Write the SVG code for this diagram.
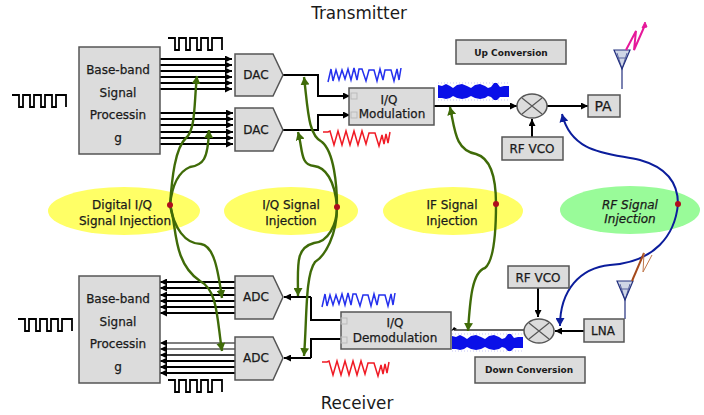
<svg xmlns="http://www.w3.org/2000/svg" xmlns:xlink="http://www.w3.org/1999/xlink" width="704" height="415" viewBox="0 0 704 415">
<style>
text{font-family:"DejaVu Sans","Liberation Sans",sans-serif;fill:#1a1a1a;text-anchor:middle}
.t{font-size:12px;stroke:#1a1a1a;stroke-width:.25px}
.s{font-size:9px;font-weight:bold}
.i{font-style:italic}
.h{font-size:16.8px}
.box{fill:#dcdcdc;stroke:#555;stroke-width:1.5}
.ln{fill:none;stroke:#000;stroke-width:2}
.bus{fill:none;stroke:#000;stroke-width:2;marker-end:url(#a)}
.g{fill:none;stroke:#3f6b08;stroke-width:2.4}
.ga{marker-end:url(#ag)}
.b{fill:none;stroke:#0b1d9c;stroke-width:2;marker-end:url(#ab)}
.sq{fill:none;stroke:#000;stroke-width:1.8}
.dot{fill:#b00d1d}
.ant{fill:#cfd6e6;stroke:#23307f;stroke-width:1.2}
</style>
<defs>
<marker id="a" markerUnits="userSpaceOnUse" markerWidth="8" markerHeight="7" refX="7" refY="3.5" orient="auto"><path d="M0,0L7,3.5L0,7z" fill="#000"/></marker>
<marker id="ag" markerUnits="userSpaceOnUse" markerWidth="9" markerHeight="9" refX="8" refY="4.5" orient="auto"><path d="M0,0L8,4.5L0,9z" fill="#3f6b08"/></marker>
<marker id="ab" markerUnits="userSpaceOnUse" markerWidth="9" markerHeight="9" refX="8" refY="4.5" orient="auto"><path d="M0,0L8,4.5L0,9z" fill="#0b1d9c"/></marker>
<path id="sq" class="sq" d="M0,0H7V12H11V0H18V12H22V0H29V12H33V0H40V12H44V0H54V12"/>
<polyline id="bw" points="0,15 3,2 5,14 8,3 11,13 14,3 17,12 20,2 23,13 26,1 29,13 31,2 34,2 38,14 41,3 46,3 49,14 52,2 55,13 57,3 63,3 66,14 69,2 71,13 73,1" fill="none" stroke="#2430ee" stroke-width="1.5"/>
<polyline id="rw" points="0,4 5,4 7,3 11,17 15,3 19,17 23,3 27,17 31,3 35,17 39,3 43,16 46,5 52,5 56,18 59,7 61,16 63,6 65,15 67,4" fill="none" stroke="#f01a24" stroke-width="1.5"/>
<g id="rf">
<path d="M0,0H71M0,17H71" fill="none" stroke="#b9b9f2" stroke-width=".8" stroke-dasharray="1 2"/>
<path fill="#0a10e8" d="M0,2 L4,3 8,1 12,3 15,5 19,2 24,1 29,3 33,5 37,2 42,1 47,3 50,5 53,4 56,0 59,0 62,4 66,3 71,3 V14 L66,14 62,14 59,17 56,17 53,14 50,13 47,15 42,16 37,15 33,13 29,15 24,16 19,15 15,13 12,15 8,16 4,15 0,15z"/>
</g>
<g id="ant"><path class="ant" d="M0,0H16L8,19z"/><path d="M3,3L8,19L13,3M5,8H11" fill="none" stroke="#23307f" stroke-width=".7"/></g>
</defs>
<rect width="704" height="415" fill="#fff"/>

<ellipse cx="124" cy="211" rx="76" ry="24" fill="#ffff66"/>
<ellipse cx="291" cy="211" rx="67" ry="24" fill="#ffff66"/>
<ellipse cx="453" cy="211" rx="70" ry="24" fill="#ffff66"/>
<ellipse cx="630" cy="210" rx="70" ry="24" fill="#99fb99"/>

<text class="h" x="359" y="19">Transmitter</text>
<text class="h" x="357" y="409">Receiver</text>

<g id="connectors">
<path class="bus" d="M159,59H232"/><path class="bus" d="M159,65H232"/><path class="bus" d="M159,71H232"/><path class="bus" d="M159,77H232"/><path class="bus" d="M159,83H232"/><path class="bus" d="M159,89H232"/>
<path class="bus" d="M159,113H233"/><path class="bus" d="M159,119H233"/><path class="bus" d="M159,125H233"/><path class="bus" d="M159,132H233"/><path class="bus" d="M159,138H233"/><path class="bus" d="M159,144H233"/>
<path class="bus" d="M235,282H160"/><path class="bus" d="M235,288H160"/><path class="bus" d="M235,295H160"/><path class="bus" d="M235,301H160"/><path class="bus" d="M235,307H160"/><path class="bus" d="M235,313H160"/>
<path class="bus" d="M235,343H160" style="stroke-width:1"/><path class="bus" d="M235,349H160" style="stroke-width:1"/><path class="bus" d="M235,355H160" style="stroke-width:1.4"/><path class="bus" d="M235,361H160"/><path class="bus" d="M235,367H160"/><path class="bus" d="M235,373H160"/>
<path class="bus" d="M283,75H318V96H350"/>
<path class="bus" d="M283,130H318V115H350"/>
<path class="bus" d="M311,297H284"/>
<path class="bus" d="M311,358H284"/>
<path class="ln" d="M311,297V320H341M311,358V339H341"/>
<path class="bus" d="M431,106H517"/>
<path class="bus" d="M547,106H588"/>
<path class="bus" d="M532,137V119"/>
<path d="M524,330H454" fill="none" stroke="#666" stroke-width="2"/>
<path d="M457,329L451,331L454,327z" fill="#000"/>
<path class="bus" d="M538,288V317"/>
<path class="bus" d="M584,331H555"/>
<path d="M622,89V66M625,319V296" stroke="#23307f" stroke-width="1.2" fill="none"/>

<path class="g ga" d="M170,205C172,178 175,148 186,138C196,130 194,100 197,76"/>
<path class="g ga" d="M170,205C172,186 178,172 190,167C203,165 208,160 209,130"/>
<path class="g ga" d="M337,207C337,185 334,152 322,142C308,135 308,110 304,77"/>
<path class="g ga" d="M337,207C335,180 325,167 314,166C300,165 303,150 298,132"/>
<path class="g ga" d="M170,205C177,225 172,262 200,281C218,290 217,320 222,351"/>
<path class="g ga" d="M170,205C174,228 185,244 201,244C214,246 218,270 222,298"/>
<path class="g ga" d="M337,207C337,225 328,242 314,243C295,248 298,265 298,296"/>
<path class="g ga" d="M337,207C337,235 325,256 315,262C305,275 307,320 304,356"/>
<path class="g ga" d="M496,204C496,175 490,158 476,154C455,150 455,130 450,107"/>
<path class="g ga" d="M496,204C496,225 495,260 485,268C472,272 470,300 468,331"/>
<path class="b" d="M678,204C678,182 665,167 640,160C610,153 572,155 562,114"/>
<path class="b" d="M678,204C675,235 655,262 610,265C580,268 560,290 560,326"/>
<circle class="dot" cx="170" cy="205" r="3"/>
<circle class="dot" cx="337" cy="207" r="3"/>
<circle class="dot" cx="496" cy="204" r="3"/>
<circle class="dot" cx="678" cy="204" r="3"/>
</g>

<g id="baseband-tx"><rect class="box" x="79" y="47" width="81" height="107"/>
<text class="t" x="118" y="74">Base-band</text><text class="t" x="118" y="97">Signal</text><text class="t" x="118" y="119">Processin</text><text class="t" x="118" y="142">g</text></g>
<g id="baseband-rx"><rect class="box" x="79" y="276" width="81" height="107"/>
<text class="t" x="118" y="303">Base-band</text><text class="t" x="118" y="326">Signal</text><text class="t" x="118" y="348">Processin</text><text class="t" x="118" y="371">g</text></g>
<g id="dac1"><path class="box" d="M235,54H273L283,75L273,96H235z"/><text class="t" x="256" y="79">DAC</text></g>
<g id="dac2"><path class="box" d="M235,108H273L283,130L273,151H235z"/><text class="t" x="256" y="134">DAC</text></g>
<g id="adc1"><path class="box" d="M235,276H273L283,297L273,319H235z"/><text class="t" x="256" y="301">ADC</text></g>
<g id="adc2"><path class="box" d="M235,337H273L283,358L273,380H235z"/><text class="t" x="256" y="362">ADC</text></g>
<g id="iq-mod"><rect class="box" x="349" y="88" width="85" height="37"/>
<rect x="351" y="93" width="6" height="6" fill="none" stroke="#bbb"/><rect x="351" y="112" width="6" height="6" fill="none" stroke="#bbb"/>
<text class="t" x="389" y="104">I/Q</text><text class="t" x="392" y="118">Modulation</text></g>
<g id="iq-demod"><rect class="box" x="341" y="312" width="110" height="37"/>
<rect x="341" y="318" width="6" height="6" fill="none" stroke="#bbb"/><rect x="341" y="337" width="6" height="6" fill="none" stroke="#bbb"/>
<text class="t" x="395" y="327">I/Q</text><text class="t" x="395" y="342">Demodulation</text></g>
<g id="mixer-up"><ellipse class="box" cx="532" cy="106" rx="15" ry="12"/><path d="M522,98L542,114M542,98L522,114" stroke="#555" stroke-width="1.2"/></g>
<g id="mixer-down"><ellipse class="box" cx="539" cy="331" rx="15" ry="12"/><path d="M529,323L549,339M549,323L529,339" stroke="#555" stroke-width="1.2"/></g>
<g id="pa"><rect class="box" x="588" y="95" width="32" height="22"/><text class="t" x="603" y="111" style="font-size:14px">PA</text></g>
<g id="lna"><rect class="box" x="584" y="319" width="40" height="23"/><text class="t" x="603" y="335">LNA</text></g>
<g id="vco-up"><rect class="box" x="502" y="137" width="61" height="23"/><text class="t" x="532" y="153">RF VCO</text></g>
<g id="vco-down"><rect class="box" x="508" y="266" width="61" height="22"/><text class="t" x="538" y="282">RF VCO</text></g>
<g id="up-conv"><rect class="box" x="456" y="40" width="110" height="24"/><text class="s" x="511" y="56">Up Conversion</text></g>
<g id="down-conv"><rect class="box" x="475" y="357" width="110" height="26"/><text class="s" x="529" y="373">Down Conversion</text></g>

<g id="inj-digital"><text class="t" x="122" y="209">Digital I/Q</text><text class="t" x="125" y="225">Signal Injection</text></g>
<g id="inj-iq"><text class="t" x="291" y="209">I/Q Signal</text><text class="t" x="291" y="225">Injection</text></g>
<g id="inj-if"><text class="t" x="452" y="209">IF Signal</text><text class="t" x="452" y="225">Injection</text></g>
<g id="inj-rf"><text class="t i" x="630" y="209">RF Signal</text><text class="t i" x="630" y="223">Injection</text></g>

<use href="#sq" xlink:href="#sq" x="12" y="95"/>
<use href="#sq" xlink:href="#sq" x="168" y="38"/>
<use href="#sq" xlink:href="#sq" x="18" y="319"/>
<use href="#sq" xlink:href="#sq" x="168" y="380"/>
<use href="#bw" xlink:href="#bw" x="328" y="67"/>
<use href="#rw" xlink:href="#rw" x="323" y="128"/>
<use href="#bw" xlink:href="#bw" x="322" y="292"/>
<use href="#rw" xlink:href="#rw" x="322" y="358"/>
<use href="#rf" xlink:href="#rf" x="438" y="83"/>
<use href="#rf" xlink:href="#rf" x="452" y="334"/>
<use href="#ant" xlink:href="#ant" x="614" y="50"/>
<use href="#ant" xlink:href="#ant" x="617" y="281"/>
<path d="M626,50L636,31L634,50L645,25" fill="none" stroke="#e6189a" stroke-width="2"/>
<path d="M645,22L642,28L647,27z" fill="#e6189a" stroke="#e6189a"/>
<path d="M632,281L644,253" fill="none" stroke="#a5491a" stroke-width="2"/>
<path d="M644,253L643,272L652,255" fill="none" stroke="#c0774a" stroke-width="1"/>
</svg>
